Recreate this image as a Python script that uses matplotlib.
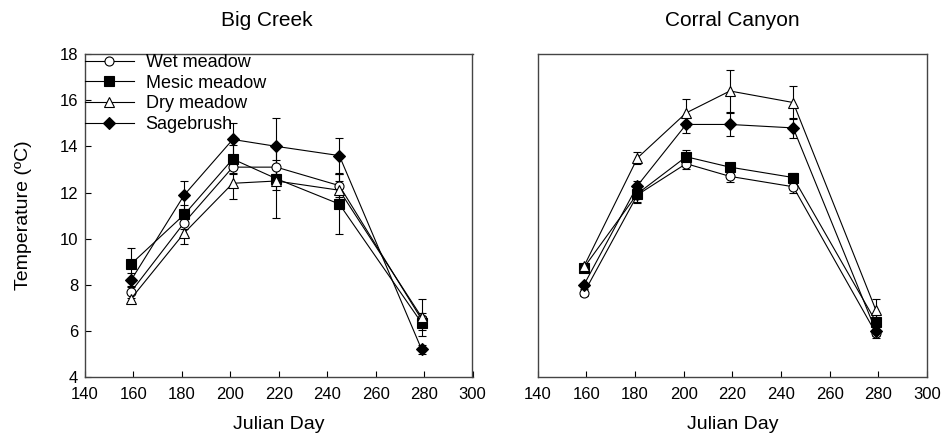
import numpy as np
import matplotlib.pyplot as plt
from matplotlib.lines import Line2D

plt.rcParams['font.family'] = ['Liberation Sans', 'DejaVu Sans']

days = [159, 181, 201, 219, 245, 279]
series = ['Wet meadow', 'Mesic meadow', 'Dry meadow', 'Sagebrush']

# Big Creek
bc_wet = [7.7, 10.7, 13.1, 13.1, 12.3, 6.5]
bc_wet_err = [0.25, 0.3, 0.3, 0.3, 0.5, 0.3]
bc_mesic = [8.9, 11.05, 13.45, 12.6, 11.5, 6.35]
bc_mesic_err = [0.7, 0.4, 0.6, 0.5, 1.3, 0.3]
bc_dry = [7.4, 10.25, 12.4, 12.5, 12.1, 6.6]
bc_dry_err = [0.2, 0.5, 0.7, 1.6, 0.4, 0.8]
bc_sage = [8.2, 11.9, 14.3, 14.0, 13.6, 5.2]
bc_sage_err = [0.3, 0.6, 0.7, 1.25, 0.75, 0.2]

# Corral Canyon
cc_wet = [7.65, 11.9, 13.25, 12.7, 12.25, 5.9]
cc_wet_err = [0.15, 0.3, 0.25, 0.25, 0.25, 0.2]
cc_mesic = [8.75, 11.95, 13.55, 13.1, 12.65, 6.4]
cc_mesic_err = [0.1, 0.4, 0.3, 0.2, 0.2, 0.3]
cc_dry = [8.8, 13.5, 15.45, 16.4, 15.9, 6.9]
cc_dry_err = [0.1, 0.25, 0.6, 0.9, 0.7, 0.5]
cc_sage = [8.0, 12.3, 14.95, 14.95, 14.8, 6.0]
cc_sage_err = [0.1, 0.2, 0.35, 0.5, 0.45, 0.2]

styles = [dict(marker='o', mfc='white', ms=6.5),
          dict(marker='s', mfc='black', ms=6.5),
          dict(marker='^', mfc='white', ms=7),
          dict(marker='D', mfc='black', ms=6.5)]

fig = plt.figure(figsize=(9.45, 4.36), dpi=100)
ax1 = fig.add_axes([0.090, 0.135, 0.410, 0.741])
ax2 = fig.add_axes([0.569, 0.135, 0.412, 0.741])

panels = [(ax1, 'Big Creek', 0.47, [(bc_wet, bc_wet_err), (bc_mesic, bc_mesic_err),
                                    (bc_dry, bc_dry_err), (bc_sage, bc_sage_err)]),
          (ax2, 'Corral Canyon', 0.5, [(cc_wet, cc_wet_err), (cc_mesic, cc_mesic_err),
                                       (cc_dry, cc_dry_err), (cc_sage, cc_sage_err)])]

for ax, title, tx, data in panels:
    for name, (vals, err), st in zip(series, data, styles):
        ax.errorbar(days, vals, yerr=err, color='black', lw=0.8, elinewidth=0.8,
                    capsize=3, capthick=0.8, mec='black', mew=0.8, **st)
    ax.set_xlim(140, 300)
    ax.set_ylim(4, 18)
    ax.set_xticks(np.arange(140, 301, 20))
    ax.set_yticks(np.arange(4, 19, 2))
    ax.tick_params(direction='in', labelsize=12, length=4, width=0.8)
    ax.tick_params(axis='x', pad=7)
    ax.tick_params(axis='y', pad=5)
    for s in ax.spines.values():
        s.set_color('#444444')
        s.set_linewidth(1)
    ax.set_title(title, fontsize=15, pad=20, x=tx)
    ax.set_xlabel('Julian Day', fontsize=14, labelpad=10)

ax1.set_ylabel('Temperature (\u00baC)', fontsize=14, labelpad=20)
ax2.tick_params(axis='y', left=False, labelleft=False)

handles = [Line2D([], [], color='black', lw=0.8, mec='black', mew=0.8, **st)
           for st in styles]
ax1.legend(handles, series, loc='upper left', frameon=False, fontsize=13,
           handlelength=2.7, borderaxespad=0.0, borderpad=0.0, labelspacing=0.2,
           handletextpad=0.65, bbox_to_anchor=(0.0, 1.0))

fig.savefig('out.png', dpi=100)
